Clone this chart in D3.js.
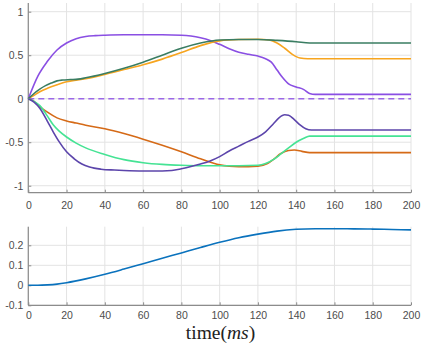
<!DOCTYPE html>
<html>
<head>
<meta charset="utf-8">
<script src="https://cdn.jsdelivr.net/npm/d3@7"></script>
<style>
  body { margin: 0; background: #fff; }
  svg { display: block; }
</style>
</head>
<body>
<script>
var w = 423;
var h = 343;

// x positions (ms) and values for each curve
var tPurple = [0, 5, 10, 15, 20, 25, 30, 35, 40, 50, 60, 70, 80, 85, 90, 95, 100, 105, 110, 115, 120, 124, 127, 130, 133, 136, 140, 144, 147, 150, 200];
var vPurple = [0, 0.26, 0.43, 0.56, 0.64, 0.69, 0.715, 0.725, 0.73, 0.735, 0.735, 0.735, 0.73, 0.72, 0.70, 0.67, 0.625, 0.575, 0.535, 0.51, 0.49, 0.46, 0.42, 0.33, 0.24, 0.17, 0.135, 0.105, 0.06, 0.05, 0.05];

var tGreen = [0, 3, 6, 9, 12, 15, 18, 22, 26, 30, 40, 50, 60, 70, 80, 90, 100, 110, 120, 130, 140, 147, 150, 200];
var vGreen = [0, 0.06, 0.11, 0.15, 0.18, 0.205, 0.215, 0.22, 0.225, 0.24, 0.29, 0.35, 0.42, 0.50, 0.58, 0.64, 0.675, 0.68, 0.68, 0.67, 0.655, 0.64, 0.64, 0.64];

var tOrange = [0, 3, 6, 10, 15, 20, 30, 40, 50, 60, 70, 80, 90, 100, 110, 120, 126, 130, 134, 138, 142, 146, 200];
var vOrange = [0, 0.04, 0.08, 0.12, 0.16, 0.195, 0.23, 0.28, 0.335, 0.39, 0.455, 0.53, 0.61, 0.665, 0.68, 0.683, 0.675, 0.64, 0.58, 0.51, 0.468, 0.46, 0.46];

var tDarkOrange = [0, 3, 6, 10, 15, 20, 25, 30, 40, 50, 60, 70, 80, 90, 100, 105, 110, 115, 120, 125, 128, 132, 136, 139, 143, 147, 200];
var vDarkOrange = [0, -0.03, -0.09, -0.155, -0.22, -0.255, -0.28, -0.305, -0.345, -0.40, -0.465, -0.535, -0.61, -0.69, -0.76, -0.775, -0.78, -0.78, -0.775, -0.745, -0.70, -0.63, -0.595, -0.59, -0.605, -0.62, -0.62];

var tLightGreen = [0, 3, 6, 10, 13, 16, 20, 25, 30, 40, 50, 60, 70, 80, 90, 100, 110, 120, 124, 128, 132, 136, 140, 144, 147, 200];
var vLightGreen = [0, -0.03, -0.08, -0.20, -0.30, -0.37, -0.44, -0.51, -0.565, -0.64, -0.70, -0.735, -0.755, -0.765, -0.77, -0.77, -0.77, -0.765, -0.745, -0.70, -0.635, -0.565, -0.50, -0.455, -0.43, -0.43];

var tIndigo = [0, 3, 6, 10, 13, 16, 20, 24, 28, 32, 38, 45, 50, 60, 70, 75, 80, 85, 90, 95, 100, 105, 110, 115, 120, 124, 128, 131, 134, 136, 139, 142, 145, 148, 200];
var vIndigo = [0, -0.04, -0.11, -0.26, -0.38, -0.49, -0.61, -0.69, -0.75, -0.785, -0.81, -0.82, -0.825, -0.83, -0.83, -0.825, -0.805, -0.78, -0.75, -0.715, -0.665, -0.60, -0.545, -0.49, -0.44, -0.38, -0.29, -0.22, -0.185, -0.19, -0.24, -0.30, -0.345, -0.36, -0.36];

var tZero = [0, 200];
var vZero = [0, 0];

var tBlue = [0, 5, 10, 15, 20, 30, 40, 50, 60, 70, 80, 90, 100, 110, 120, 130, 140, 150, 160, 170, 180, 190, 200];
var vBlue = [0, 0, 0.002, 0.006, 0.013, 0.032, 0.055, 0.081, 0.108, 0.135, 0.162, 0.189, 0.215, 0.238, 0.256, 0.271, 0.280, 0.283, 0.283, 0.282, 0.281, 0.279, 0.277];

var xTicks = [0, 20, 40, 60, 80, 100, 120, 140, 160, 180, 200];
var topYTicks = [-1, -0.5, 0, 0.5, 1];
var botYTicks = [-0.1, 0, 0.1, 0.2];

var topSeries = [
  { t: tZero, v: vZero, color: "#9b68e8", dash: "6,4" },
  { t: tPurple, v: vPurple, color: "#8a4fe3" },
  { t: tOrange, v: vOrange, color: "#f7a51f" },
  { t: tGreen, v: vGreen, color: "#3a7d62" },
  { t: tDarkOrange, v: vDarkOrange, color: "#d56a17" },
  { t: tLightGreen, v: vLightGreen, color: "#45e394" },
  { t: tIndigo, v: vIndigo, color: "#5c45ab" }
];

var svg = d3.select("body").append("svg").attr("width", w).attr("height", h);

var x = d3.scaleLinear().domain([0, 200]).range([28.3, 411]);
var yTop = d3.scaleLinear().domain([-1.08, 1.1]).range([192.7, 3]);
var yBot = d3.scaleLinear().domain([-0.1, 0.293]).range([305.3, 226.7]);

var fmt = function (d) { return String(d); };
var font = "'Liberation Sans', Arial, sans-serif";

function drawPanel(y, yTicks, xPad) {
  var top = y.range()[1];
  var bottom = y.range()[0];
  var left = x.range()[0];
  var right = x.range()[1];

  // grid
  var grid = svg.append("g");
  grid.selectAll("line.vg")
    .data(xTicks)
    .enter()
    .append("line")
    .attr("x1", function (d) { return x(d); })
    .attr("x2", function (d) { return x(d); })
    .attr("y1", top)
    .attr("y2", bottom)
    .attr("stroke", "#e3e3e3")
    .attr("stroke-width", 1);
  grid.selectAll("line.hg")
    .data(yTicks)
    .enter()
    .append("line")
    .attr("x1", left)
    .attr("x2", right)
    .attr("y1", function (d) { return y(d); })
    .attr("y2", function (d) { return y(d); })
    .attr("stroke", "#e3e3e3")
    .attr("stroke-width", 1);

  var xAxis = d3.axisBottom(x).tickValues(xTicks).tickFormat(fmt)
    .tickSizeInner(-3).tickSizeOuter(0).tickPadding(xPad);
  var yAxis = d3.axisLeft(y).tickValues(yTicks).tickFormat(fmt)
    .tickSizeInner(-3).tickSizeOuter(0).tickPadding(5);

  var gx = svg.append("g").attr("transform", "translate(0," + bottom + ")").call(xAxis);
  var gy = svg.append("g").attr("transform", "translate(" + left + ",0)").call(yAxis);

  [gx, gy].forEach(function (g) {
    g.select(".domain").attr("stroke", "#8c8c8c").attr("stroke-width", 1.2);
    g.selectAll(".tick line").attr("stroke", "#8c8c8c");
    g.selectAll(".tick text")
      .attr("fill", "#4d4d4d")
      .attr("font-family", font)
      .attr("font-size", 10.5);
  });
  gy.select(".domain").attr("d", "M0," + bottom + "V" + top);
  gx.select(".domain").attr("d", "M0,0H" + (right - left)).attr("transform", "translate(" + left + ",0)");
}

drawPanel(yTop, topYTicks, 9);
drawPanel(yBot, botYTicks, 6);

function drawLine(s, y) {
  var pts = s.t.map(function (t, i) { return [t, s.v[i]]; });
  var line = d3.line()
    .x(function (d) { return x(d[0]); })
    .y(function (d) { return y(d[1]); })
    .curve(d3.curveMonotoneX);
  svg.append("path")
    .datum(pts)
    .attr("d", line)
    .attr("fill", "none")
    .attr("stroke", s.color)
    .attr("stroke-width", 1.6)
    .attr("stroke-dasharray", s.dash || null);
}

topSeries.forEach(function (s) { drawLine(s, yTop); });
drawLine({ t: tBlue, v: vBlue, color: "#0a72bd" }, yBot);

// x label
var lab = svg.append("text")
  .attr("x", 220.5)
  .attr("y", 339)
  .attr("text-anchor", "middle")
  .attr("font-family", "'Liberation Serif', 'DejaVu Serif', serif")
  .attr("font-size", 19.5)
  .attr("fill", "#222");
lab.append("tspan").text("time(");
lab.append("tspan").attr("font-style", "italic").text("ms");
lab.append("tspan").text(")");
</script>
</body>
</html>
